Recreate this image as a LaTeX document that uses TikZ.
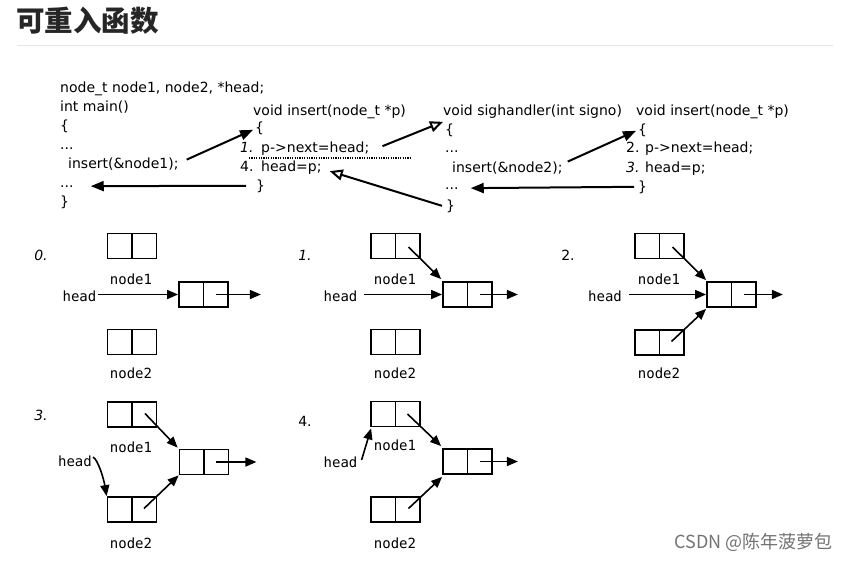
\documentclass[tikz,border=0pt]{standalone}
\usepackage{fontspec}
\usetikzlibrary{arrows.meta,calc}
\newfontfamily\codefont{DejaVu Sans}
\newfontfamily\monofont{DejaVu Sans Mono}
\newfontfamily\cjkfont{Noto Sans CJK SC}
\newcommand\cf{\codefont\fontsize{14}{16}\selectfont}
\newcommand\mf{\monofont\fontsize{14}{16}\selectfont}
\begin{document}
\begin{tikzpicture}[x=1pt,y=-1pt,
  code/.style={font=\cf, inner sep=0pt, anchor=base west},
  lbl/.style={font=\mf, inner sep=0pt},
  num/.style={font=\cf, inner sep=0pt},
  rec/.style={draw, line width=1.8pt, minimum width=49pt, minimum height=25pt, inner sep=0pt,
    path picture={\draw[line width=1.8pt] (path picture bounding box.north) -- (path picture bounding box.south);}},
  arr/.style={-{Triangle[length=11pt,width=9pt]}, line width=1.6pt},
  carr/.style={-{Triangle[length=13pt,width=10pt]}, line width=2pt},
  oarr/.style={-{Triangle[open,length=13pt,width=11pt,fill=white]}, line width=2pt},
  dotline/.style={line width=1.6pt, dash pattern=on 1.2pt off 1.2pt}
]
\useasboundingbox (0,0) rectangle (849,560);
\fill[white] (0,0) rectangle (849,560);

% title
\node[font=\cjkfont\bfseries\fontsize{28.5}{31}\selectfont, text=black!85, anchor=west, inner sep=0pt] (title) at (16,21) {可重入函数};
\coordinate (rl) at (17,45);
\coordinate (rr) at (833,45);
\draw[black!10, line width=1pt] (rl) -- (rr);

% main
\node[code] (m1) at (60,92) {node\_t node1, node2, *head;};
\node[code] (m2) at (60,111) {int main()};
\node[code] (m3) at (60,130) {\{};
\node[code] (m4) at (60,149) {...};
\node[code] (m5) at (68,168) {insert(\&node1);};
\node[code] (m6) at (60,187) {...};
\node[code] (m7) at (60,206) {\}};

% insert 1
\node[code] (i1t) at (253,115) {void insert(node\_t *p)};
\node[code] (i1o) at (255,132) {\{};
\node[code] (i1n1) at (240,152) {\textit{1.}};
\node[code] (i1a) at (261,152) {p->next=head;};
\node[code] (i1n4) at (240,171) {4.};
\node[code] (i1b) at (261,171) {head=p;};
\node[code] (i1c) at (256,190) {\}};
\coordinate (dl) at (249,158);
\coordinate (dr) at (411,158);
\draw[dotline] (dl) -- (dr);

% sighandler
\node[code] (st) at (443,115) {void sighandler(int signo)};
\node[code] (so) at (445,134) {\{};
\node[code] (sd1) at (445,152) {...};
\node[code] (sc) at (452,172) {insert(\&node2);};
\node[code] (sd2) at (445,189) {...};
\node[code] (sx) at (446,210) {\}};

% insert 2
\node[code] (jt) at (636,115) {void insert(node\_t *p)};
\node[code] (jo) at (638,134) {\{};
\node[code] (jn2) at (626,152) {2.};
\node[code] (ja) at (645,152) {p->next=head;};
\node[code] (jn3) at (626,172) {\textit{3.}};
\node[code] (jb) at (645,172) {head=p;};
\node[code] (jc) at (638,191) {\}};

% code arrows
\draw[carr] ($(m5.east)+(8,-4)$) -- ($(i1o.west)+(-2,2)$);
\draw[carr] ($(i1c.west)+(-10,0)$) -- ($(m6.east)+(17,0)$);
\draw[oarr] ($(i1a.east)+(13,-2)$) -- ($(so.west)+(-2,-8)$);
\draw[oarr] ($(sx.west)+(-4,0)$) -- ($(i1b.east)+(8,4)$);
\draw[carr] ($(sc.east)+(5,-6)$) -- ($(jo.west)+(-2,1)$);
\draw[carr] ($(jc.west)+(-4,0)$) -- ($(sd2.east)+(12,0)$);

% panel 0
\node[num] (p0) at (41,255) {\textit{0.}};
\node[rec] (a1) at (132,246) {};
\node[lbl] (a1l) at (131,279) {node1};
\node[rec] (a2) at (132,342) {};
\node[lbl] (a2l) at (131,373) {node2};
\node[rec] (ac) at (203.5,294.5) {};
\node[lbl] (ah) at (79.5,296) {head};
\draw[arr] ($(ah.east |- ac.west)+(1,0)$) -- (ac.west);
\draw[arr] ($(ac.center)+(12,0)$) -- ($(ac.east)+(32,0)$);

% panel 1
\node[num] (p1) at (305,255) {\textit{1.}};
\node[rec] (b1) at (395.5,246) {};
\node[lbl] (b1l) at (395,279) {node1};
\node[rec] (b2) at (395.5,342) {};
\node[lbl] (b2l) at (395,373) {node2};
\node[rec] (bc) at (467.5,294.5) {};
\node[lbl] (bh) at (340.5,296) {head};
\draw[arr] ($(b1.center)+(13,1)$) -- ($(bc.north west)+(-1,-2)$);
\draw[arr] ($(bh.east |- bc.west)+(6,0)$) -- (bc.west);
\draw[arr] ($(bc.center)+(12,0)$) -- ($(bc.east)+(25,0)$);

% panel 2
\node[num] (p2) at (568,255) {2.};
\node[rec] (c1) at (659.5,246) {};
\node[lbl] (c1l) at (659,279) {node1};
\node[rec] (c2) at (659.5,342.5) {};
\node[lbl] (c2l) at (659,373) {node2};
\node[rec] (cc) at (731.5,294.5) {};
\node[lbl] (ch) at (605,296) {head};
\draw[arr] ($(c1.center)+(13,1)$) -- ($(cc.north west)+(0,-1)$);
\draw[arr] ($(c2.center)+(12,-1)$) -- ($(cc.south west)+(0,1)$);
\draw[arr] ($(ch.east |- cc.west)+(7,0)$) -- (cc.west);
\draw[arr] ($(cc.center)+(12,0)$) -- ($(cc.east)+(26,0)$);

% panel 3
\node[num] (p3) at (41,415) {\textit{3.}};
\node[rec] (d1) at (132,414.5) {};
\node[lbl] (d1l) at (131,447) {node1};
\node[rec] (dc) at (204,462) {};
\node[rec] (d2) at (132,509.5) {};
\node[lbl] (d2l) at (131,543) {node2};
\node[lbl] (dh) at (75,461) {head};
\draw[arr] ($(d1.center)+(13,-1)$) -- ($(dc.north west)+(-1,-1)$);
\draw[arr] ($(d2.center)+(12,-1)$) -- (dc.south west);
\draw[arr] ($(dh.east)+(1,-4)$) .. controls +(5,3) and +(-3,-18) .. (d2.north west);
\draw[arr] ($(dc.center)+(12,0)$) -- ($(dc.east)+(27,0)$);

% panel 4
\node[num] (p4) at (305,421) {4.};
\node[rec] (e1) at (395.5,414) {};
\node[lbl] (e1l) at (395,445) {node1};
\node[rec] (ec) at (467.5,461.5) {};
\node[rec] (e2) at (395.5,509.5) {};
\node[lbl] (e2l) at (395,543) {node2};
\node[lbl] (eh) at (340.5,462) {head};
\draw[arr] ($(e1.center)+(12,0)$) -- ($(ec.north west)+(-1,-2)$);
\draw[arr] ($(e2.center)+(13,-1)$) -- ($(ec.south west)+(0,2)$);
\draw[arr] ($(eh.east)+(4,-2)$) -- ($(e1.south west)+(1,1)$);
\draw[arr] ($(ec.center)+(12,0)$) -- ($(ec.east)+(25,0)$);

% footer
\node[anchor=base east, font=\cjkfont\fontsize{18}{20}\selectfont, text=black!55, inner sep=0pt] (wm) at (833,548) {CSDN @陈年菠萝包};
\end{tikzpicture}
\end{document}
